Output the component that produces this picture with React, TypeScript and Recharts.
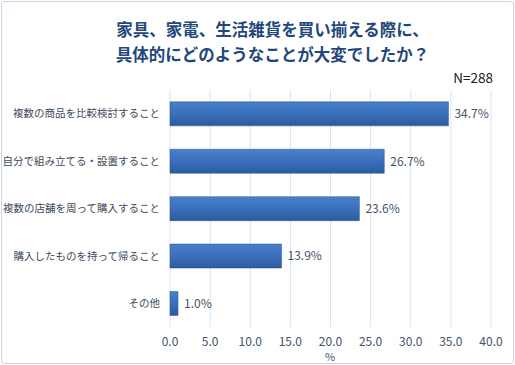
import { BarChart, Bar, XAxis, YAxis, CartesianGrid, LabelList } from 'recharts';

const categories = [
  '複数の商品を比較検討すること',
  '自分で組み立てる・設置すること',
  '複数の店舗を周って購入すること',
  '購入したものを持って帰ること',
  'その他',
];
const values = [34.7, 26.7, 23.6, 13.9, 1.0];
const xTicks = [0, 5, 10, 15, 20, 25, 30, 35, 40];
const titleLines = ['家具、家電、生活雑貨を買い揃える際に、', '具体的にどのようなことが大変でしたか？'];
const sampleNote = 'N=288';

const data = categories.map((name, i) => ({ name, value: values[i] }));

const FONT = '"Noto Sans CJK JP", "Noto Sans", sans-serif';

const App = () => {
  return (
    <div style={{ position: 'absolute', left: 0, top: 0, width: 515, height: 365, background: '#fff', fontFamily: FONT }}>
      {/* outer frame */}
      <div
        style={{
          position: 'absolute',
          left: 1,
          top: 1,
          width: 511,
          height: 361,
          border: '1px solid #c8d6ea',
          borderRadius: 3,
        }}
      />
      {/* title */}
      {titleLines.map((t, i) => (
        <div
          key={i}
          style={{
            position: 'absolute',
            left: 0,
            width: 545,
            top: 17 + i * 25,
            textAlign: 'center',
            fontSize: 16.5,
            fontWeight: 700,
            color: '#24477a',
            lineHeight: '24px',
          }}
        >
          {t}
        </div>
      ))}
      <div style={{ position: 'absolute', right: 22, top: 68, fontSize: 13.5, color: '#222', lineHeight: '18px' }}>
        {sampleNote}
      </div>

      <div style={{ position: 'absolute', left: 0, top: 0 }}>
        <BarChart
          width={515}
          height={365}
          data={data}
          layout="vertical"
          margin={{ top: 90, right: 24, bottom: 4, left: 8 }}
          barCategoryGap="25%"
        >
          <defs>
            <linearGradient id="barFill" x1="0" y1="0" x2="0" y2="1">
              <stop offset="0%" stopColor="#4a80ca" />
              <stop offset="50%" stopColor="#3a6fbb" />
              <stop offset="100%" stopColor="#2d5b9c" />
            </linearGradient>
          </defs>
          <CartesianGrid horizontal={false} stroke="#dbe3ef" />
          <XAxis
            type="number"
            domain={[0, 40]}
            ticks={xTicks}
            tickFormatter={(v: number) => Number(v).toFixed(1)}
            axisLine={false}
            tickLine={false}
            height={34}
            tick={{ fill: '#44546a', fontSize: 12, fontFamily: FONT, dy: 2 }}
          />
          <YAxis
            type="category"
            dataKey="name"
            width={162}
            axisLine={false}
            tickLine={false}
            tick={{ fill: '#404a5c', fontSize: 10.5, fontFamily: FONT, dx: -2 }}
          />
          <Bar dataKey="value" fill="url(#barFill)" stroke="#2a5090" strokeWidth={0.5} isAnimationActive={false}>
            <LabelList
              dataKey="value"
              position="right"
              offset={6}
              formatter={(v: any) => `${Number(v).toFixed(1)}%`}
              fill="#44546a"
              fontSize={12}
              fontFamily={FONT}
            />
          </Bar>
        </BarChart>
      </div>
      <div
        style={{
          position: 'absolute',
          left: 322,
          top: 350,
          width: 16,
          textAlign: 'center',
          fontSize: 11,
          color: '#44546a',
          lineHeight: '12px',
        }}
      >
        %
      </div>
    </div>
  );
};

export default App;
